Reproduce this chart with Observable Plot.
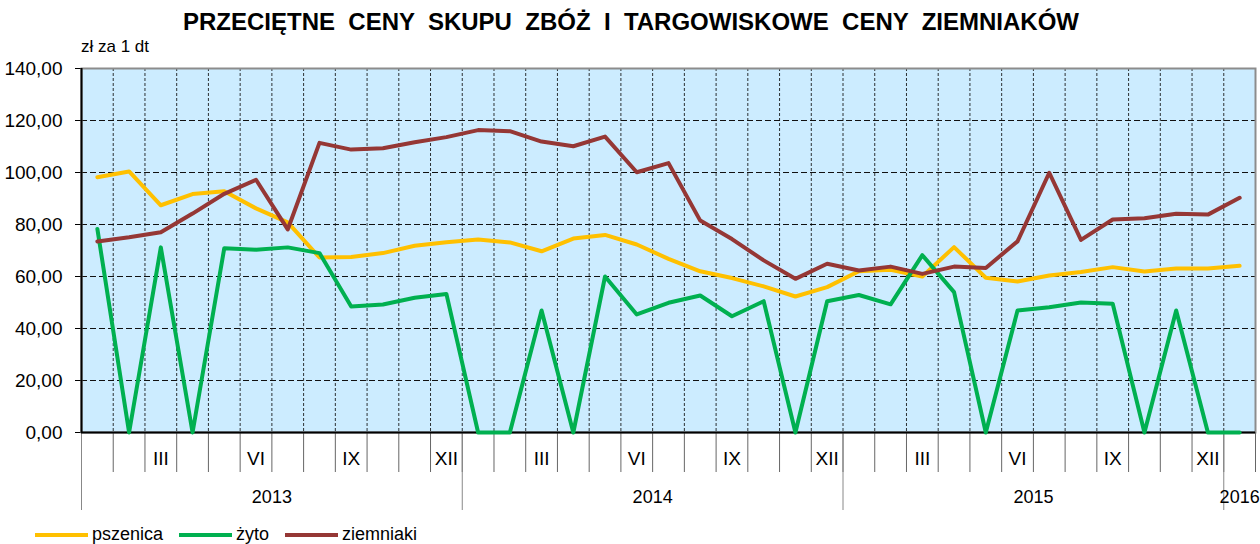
<!DOCTYPE html>
<html>
<head>
<meta charset="utf-8">
<script src="https://cdn.jsdelivr.net/npm/d3@7"></script>
<script src="https://cdn.jsdelivr.net/npm/@observablehq/plot@0.6"></script>
<style>
  html, body { margin: 0; padding: 0; background: #fff; }
  #wrap { position: relative; width: 1260px; height: 544px; overflow: hidden; }
  #title { position: absolute; left: 0; top: 9px; width: 1262px; text-align: center;
    font: bold 24px "Liberation Sans", Arial, sans-serif; white-space: pre; color: #000; line-height: 26px; }
  #unit { position: absolute; left: 81px; top: 37px; font: 17px "Liberation Sans Narrow", "Arial Narrow", "Liberation Sans", sans-serif; color: #000; }
  #chart { position: absolute; left: 0; top: 38px; }
  #legend { position: absolute; left: 35px; top: 524px; display: flex; align-items: center;
    font: 18px "Liberation Sans Narrow", "Arial Narrow", "Liberation Sans", sans-serif; color: #000; }
  .item { display: flex; align-items: center; margin-right: 16px; }
  .sw { width: 53px; height: 4px; margin-right: 4px; }
</style>
</head>
<body>
<div id="wrap">
  <div id="title"></div>
  <div id="unit"></div>
  <div id="chart"></div>
  <div id="legend"></div>
</div>
<script>
// ---- data ----
const titleText = "PRZECIĘTNE  CENY  SKUPU  ZBÓŻ  I  TARGOWISKOWE  CENY  ZIEMNIAKÓW";
const unitText = "zł za 1 dt";
const seriesNames = ["pszenica", "żyto", "ziemniaki"];
const seriesColors = ["#FFC000", "#00B050", "#953735"];
// months I.2013 – I.2016 (37 months)
const pszenica = [98.2, 100.4, 87.4, 91.7, 92.8, 86.2, 80.8, 67.3, 67.5, 69.0, 71.8,
  73.2, 74.2, 73.1, 69.7, 74.6, 76.0, 72.3, 66.8, 62.0, 59.4, 56.2, 52.3,
  55.9, 62.0, 62.6, 60.0, 71.3, 59.5, 58.1, 60.4, 61.7, 63.6, 61.9, 63.1, 63.1, 64.1];
const zyto = [78.3, 0, 71.2, 0, 70.9, 70.3, 71.2, 69.0, 48.5, 49.2, 51.8,
  53.3, 0, 0, 46.9, 0, 60.0, 45.4, 49.9, 52.7, 44.7, 50.5, 0,
  50.5, 52.9, 49.3, 68.2, 54.0, 0, 46.9, 48.2, 50.0, 49.5, 0, 46.9, 0, 0];
const ziemniaki = [73.5, 75.1, 77.0, 84.2, 91.8, 97.2, 78.1, 111.4, 108.8, 109.3, 111.6,
  113.6, 116.3, 115.9, 111.9, 110.1, 113.8, 100.1, 103.6, 81.5, 74.4, 66.2, 59.1,
  64.9, 62.3, 63.8, 61.0, 63.8, 63.3, 73.5, 99.9, 74.1, 81.9, 82.4, 84.1, 83.8, 90.3];
const yTicks = [0, 20, 40, 60, 80, 100, 120, 140];
const monthLabels = ["", "", "III", "", "", "VI", "", "", "IX", "", "", "XII"];
const years = ["2013", "2014", "2015", "2016"];
const nMonths = 37;

// ---- build tables ----
const values = [pszenica, zyto, ziemniaki];
const rows = [];
seriesNames.forEach((s, k) => values[k].forEach((v, i) => rows.push({s, i, v})));
const monthRows = d3.range(nMonths).map(i => ({i, label: monthLabels[i % 12]})).filter(d => d.label);
const yearRows = years.map((y, k) => ({y, start: k * 12, end: Math.min((k + 1) * 12, nMonths)}));
const boundaries = d3.range(nMonths + 1);
const yearBounds = yearRows.map(d => d.start);

const narrow = '"Liberation Sans Narrow", "Arial Narrow", "Liberation Sans", sans-serif';

const chart = Plot.plot({
  width: 1260,
  height: 480,
  marginLeft: 81,
  marginRight: 5,
  marginTop: 30,
  marginBottom: 86,
  style: {fontFamily: narrow, fontSize: "19px", color: "#000", background: "transparent", overflow: "visible"},
  x: {type: "linear", domain: [0, nMonths], axis: null},
  y: {domain: [0, 140], ticks: yTicks, tickSize: 6, tickPadding: 13, label: null,
      tickFormat: d => d.toFixed(2).replace(".", ",")},
  color: {domain: seriesNames, range: seriesColors},
  marks: [
    Plot.frame({fill: "#CCECFF"}),
    Plot.ruleY(yTicks.filter(d => d > 0), {stroke: "#111", strokeWidth: 1, strokeDasharray: "6,3"}),
    Plot.ruleX(d3.range(1, nMonths), {stroke: "#111", strokeWidth: 1, strokeDasharray: "3,2", strokeOpacity: 0.85}),
    Plot.frame({stroke: "#8c8c8c", strokeWidth: 2}),
    // axis area below plot: month ticks and year separators
    Plot.ruleX(boundaries, {y1: 0, y2: 0, insetBottom: -40, stroke: "#666", strokeWidth: 1}),
    Plot.ruleX(yearBounds, {y1: 0, y2: 0, insetBottom: -78, stroke: "#888", strokeWidth: 1}),
    Plot.text(monthRows, {x: d => d.i + 0.5, y: 0, text: "label", dy: 26, fontSize: 19}),
    Plot.text(yearRows, {x: d => (d.start + d.end) / 2, y: 0, text: "y", dy: 65, fontSize: 18}),
    Plot.ruleX([0], {stroke: "#000", strokeWidth: 2}),
    Plot.ruleY([0], {stroke: "#000", strokeWidth: 2}),
    Plot.line(rows, {x: d => d.i + 0.5, y: "v", z: "s", stroke: "s", strokeWidth: 4, strokeLinejoin: "round", strokeLinecap: "round"})
  ]
});
chart.style.display = "block";
document.getElementById("chart").appendChild(chart);
document.getElementById("title").textContent = titleText;
document.getElementById("unit").textContent = unitText;

const legend = document.getElementById("legend");
seriesNames.forEach((s, k) => {
  const it = document.createElement("div");
  it.className = "item";
  const sw = document.createElement("div");
  sw.className = "sw";
  sw.style.background = seriesColors[k];
  const tx = document.createElement("span");
  tx.textContent = s;
  it.appendChild(sw); it.appendChild(tx);
  legend.appendChild(it);
});
</script>
</body>
</html>
